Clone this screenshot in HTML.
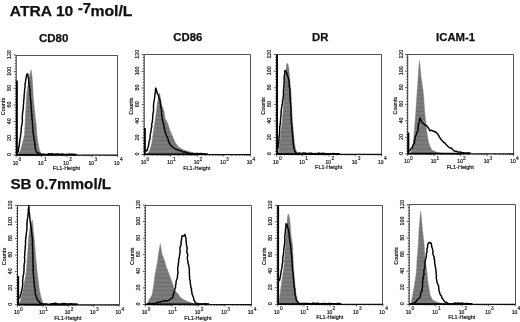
<!DOCTYPE html>
<html lang="en"><head><meta charset="utf-8"><title>Flow cytometry histograms</title>
<style>html,body{margin:0;padding:0;background:#fff}svg{display:block}text{font-family:"Liberation Sans",Arial,Helvetica,sans-serif;fill:#111}.b{font-weight:bold;stroke:#111;stroke-width:0.25px}.s{font-size:5.5px;fill:#111;stroke:#111;stroke-width:0.18px}</style>
</head><body>
<svg width="520" height="322" viewBox="0 0 520 322">
<rect width="520" height="322" fill="#fff"/>
<defs><filter id="soft" x="-5%" y="-5%" width="110%" height="110%"><feGaussianBlur stdDeviation="0.38"/></filter><pattern id="hb" patternUnits="userSpaceOnUse" x="0" y="0.9" width="20" height="4.17"><rect width="20" height="4.17" fill="#7d7d7d"/><rect y="1.4" width="20" height="1.3" fill="#6c6c6c"/></pattern></defs>
<text class="b" x="9.8" y="16.3" font-size="15.2" textLength="63.5" lengthAdjust="spacingAndGlyphs">ATRA 10</text>
<text class="b" x="77.9" y="12.6" font-size="15.2" textLength="13.2" lengthAdjust="spacingAndGlyphs">-7</text>
<text class="b" x="90.4" y="16.3" font-size="15.2" textLength="42.0" lengthAdjust="spacingAndGlyphs">mol/L</text>
<text class="b" x="10.4" y="189.2" font-size="15.2" textLength="100.8" lengthAdjust="spacingAndGlyphs">SB 0.7mmol/L</text>
<text class="b" x="39.0" y="41.8" font-size="11" textLength="29.4" lengthAdjust="spacingAndGlyphs">CD80</text>
<text class="b" x="173.3" y="41.4" font-size="11" textLength="29.1" lengthAdjust="spacingAndGlyphs">CD86</text>
<text class="b" x="312.1" y="40.8" font-size="11" textLength="16.4" lengthAdjust="spacingAndGlyphs">DR</text>
<text class="b" x="436.1" y="40.8" font-size="11" textLength="39.0" lengthAdjust="spacingAndGlyphs">ICAM-1</text>
<g id="P1" filter="url(#soft)">
<path d="M16.2,55.5 H117.5 V155.0" fill="none" stroke="#4a4a4a" stroke-width="0.95"/>
<polygon points="18.00,155.00 20.60,150.00 23.00,141.00 24.40,135.00 25.00,125.00 25.80,110.00 26.50,95.00 28.00,85.00 29.50,76.00 30.50,72.00 31.00,70.00 31.50,72.00 32.00,76.00 32.50,82.00 33.10,95.00 34.00,105.00 35.00,115.00 36.25,125.00 36.90,135.00 38.00,143.00 39.50,150.00 41.25,154.00 43.00,155.00" fill="url(#hb)" stroke="#777" stroke-width="0.4"/>
<line x1="16.2" y1="55.0" x2="16.2" y2="155.0" stroke="#2a2a2a" stroke-width="0.95"/>
<path d="M16.20,155.00h-2.6M16.20,152.22h-1.4M16.20,149.44h-1.4M16.20,146.67h-1.4M16.20,143.89h-1.4M16.20,141.11h-1.4M16.20,138.33h-2.6M16.20,135.56h-1.4M16.20,132.78h-1.4M16.20,130.00h-1.4M16.20,127.22h-1.4M16.20,124.44h-1.4M16.20,121.67h-2.6M16.20,118.89h-1.4M16.20,116.11h-1.4M16.20,113.33h-1.4M16.20,110.56h-1.4M16.20,107.78h-1.4M16.20,105.00h-2.6M16.20,102.22h-1.4M16.20,99.44h-1.4M16.20,96.67h-1.4M16.20,93.89h-1.4M16.20,91.11h-1.4M16.20,88.33h-2.6M16.20,85.56h-1.4M16.20,82.78h-1.4M16.20,80.00h-1.4M16.20,77.22h-1.4M16.20,74.44h-1.4M16.20,71.67h-2.6M16.20,68.89h-1.4M16.20,66.11h-1.4M16.20,63.33h-1.4M16.20,60.56h-1.4M16.20,57.78h-1.4M16.20,55.00h-2.6" stroke="#222" stroke-width="0.75" fill="none"/>
<line x1="16.90" y1="80.6" x2="16.90" y2="155.0" stroke="#000" stroke-width="1.9"/>
<line x1="15.70" y1="155.0" x2="117.90" y2="155.0" stroke="#0a0a0a" stroke-width="1.25"/>
<line x1="16.20" y1="154.65" x2="74.95" y2="154.65" stroke="#000" stroke-width="1.45"/>
<path d="M16.20,155.00v2.2M23.82,155.00v1.2M28.28,155.00v1.2M31.45,155.00v1.2M33.90,155.00v1.2M35.91,155.00v1.2M37.60,155.00v1.2M39.07,155.00v1.2M40.37,155.00v1.2M41.52,155.00v2.2M49.15,155.00v1.2M53.61,155.00v1.2M56.77,155.00v1.2M59.23,155.00v1.2M61.23,155.00v1.2M62.93,155.00v1.2M64.40,155.00v1.2M65.69,155.00v1.2M66.85,155.00v2.2M74.47,155.00v1.2M78.93,155.00v1.2M82.10,155.00v1.2M84.55,155.00v1.2M86.56,155.00v1.2M88.25,155.00v1.2M89.72,155.00v1.2M91.02,155.00v1.2M92.17,155.00v2.2M99.80,155.00v1.2M104.26,155.00v1.2M107.42,155.00v1.2M109.88,155.00v1.2M111.88,155.00v1.2M113.58,155.00v1.2M115.05,155.00v1.2M116.34,155.00v1.2M117.50,155.00v2.2" stroke="#222" stroke-width="0.7" fill="none"/>
<polyline points="17.50,152.50 18.10,152.00 18.46,150.10 18.61,148.06 19.23,145.99 19.42,143.36 19.82,141.06 20.00,138.96 20.43,137.18 20.60,135.00 21.00,132.71 21.24,131.24 21.20,128.68 21.43,126.81 21.90,125.00 22.17,122.53 22.43,120.65 22.24,118.31 22.33,116.42 22.46,114.38 22.76,111.86 22.99,110.10 23.33,107.54 23.32,105.43 23.68,103.30 23.60,101.54 23.91,99.16 24.14,97.04 24.10,95.00 24.54,92.69 24.49,90.80 24.81,88.41 25.12,86.53 25.02,83.89 25.50,82.00 25.66,80.58 26.07,78.17 26.39,76.48 26.60,75.00 27.20,73.80 27.80,74.30 27.90,76.00 28.30,77.00 28.43,78.24 28.70,80.00 28.72,82.01 29.10,84.00 29.36,85.65 29.43,87.41 29.95,89.10 30.00,91.00 29.99,92.57 30.00,94.50 30.40,96.55 30.33,98.16 30.60,100.00 30.99,101.98 30.82,103.69 31.30,106.13 31.13,108.13 31.50,110.00 31.45,112.10 31.82,114.24 31.96,116.09 31.88,118.37 32.32,120.65 32.45,122.96 32.50,125.00 32.82,127.41 32.94,129.05 33.00,131.37 33.17,133.69 33.76,135.55 33.75,137.50 34.29,139.61 34.61,141.79 34.70,143.61 35.21,145.76 35.15,147.79 35.60,150.00 36.31,151.53 37.50,153.00 38.97,153.15 40.60,153.85 42.50,154.30 43.70,154.10 45.27,154.49 47.16,154.47 48.83,153.72 50.62,154.01 52.26,153.77 53.62,154.24 55.16,154.29 56.34,153.87 57.69,153.99 59.11,154.16 60.97,154.13 62.70,154.06 64.10,154.40 65.47,154.36 66.59,154.36 68.17,154.27 69.42,154.31 70.85,154.32 71.97,154.24 73.26,154.25 74.78,154.49 76.20,154.44" fill="none" stroke="#000" stroke-width="1.45" stroke-linejoin="round" stroke-linecap="round"/>
<text class="s" transform="translate(10.80,154.60) rotate(-90)" text-anchor="middle" style="font-size:5.3px">0</text>
<text class="s" transform="translate(10.80,137.93) rotate(-90)" text-anchor="middle" style="font-size:5.3px">20</text>
<text class="s" transform="translate(10.80,121.27) rotate(-90)" text-anchor="middle" style="font-size:5.3px">40</text>
<text class="s" transform="translate(10.80,104.60) rotate(-90)" text-anchor="middle" style="font-size:5.3px">60</text>
<text class="s" transform="translate(10.80,87.93) rotate(-90)" text-anchor="middle" style="font-size:5.3px">80</text>
<text class="s" transform="translate(10.80,71.27) rotate(-90)" text-anchor="middle" style="font-size:5.3px">100</text>
<text class="s" transform="translate(10.80,54.60) rotate(-90)" text-anchor="middle" style="font-size:5.3px">120</text>
<text class="s" transform="translate(4.80,106.50) rotate(-90)" text-anchor="middle">Counts</text>
<text class="s" x="18.20" y="164.50" text-anchor="end" style="font-size:5px">10</text>
<text x="18.60" y="161.00" font-size="4.8" fill="#111" stroke="#111" stroke-width="0.15">0</text>
<text class="s" x="43.52" y="164.50" text-anchor="end" style="font-size:5px">10</text>
<text x="43.92" y="161.00" font-size="4.8" fill="#111" stroke="#111" stroke-width="0.15">1</text>
<text class="s" x="68.85" y="164.50" text-anchor="end" style="font-size:5px">10</text>
<text x="69.25" y="161.00" font-size="4.8" fill="#111" stroke="#111" stroke-width="0.15">2</text>
<text class="s" x="94.17" y="164.50" text-anchor="end" style="font-size:5px">10</text>
<text x="94.58" y="161.00" font-size="4.8" fill="#111" stroke="#111" stroke-width="0.15">3</text>
<text class="s" x="119.50" y="164.50" text-anchor="end" style="font-size:5px">10</text>
<text x="119.90" y="161.00" font-size="4.8" fill="#111" stroke="#111" stroke-width="0.15">4</text>
<text class="s" x="66.45" y="170.20" text-anchor="middle">FL1-Height</text>
</g>
<g id="P2" filter="url(#soft)">
<path d="M144.2,54.5 H250.5 V154.5" fill="none" stroke="#4a4a4a" stroke-width="0.95"/>
<polygon points="147.00,154.50 149.90,150.00 151.75,143.00 153.60,130.50 155.50,118.00 156.50,110.00 157.50,102.00 158.50,96.00 159.25,93.00 160.00,95.00 160.80,100.00 161.75,105.00 164.25,112.00 164.90,118.00 168.00,124.00 169.90,130.50 172.40,136.00 175.50,143.00 178.60,147.00 183.60,150.00 190.50,152.00 200.00,154.50" fill="url(#hb)" stroke="#777" stroke-width="0.4"/>
<line x1="144.2" y1="54.7" x2="144.2" y2="154.5" stroke="#2a2a2a" stroke-width="0.95"/>
<path d="M144.20,154.50h-2.6M144.20,151.73h-1.4M144.20,148.96h-1.4M144.20,146.18h-1.4M144.20,143.41h-1.4M144.20,140.64h-1.4M144.20,137.87h-2.6M144.20,135.09h-1.4M144.20,132.32h-1.4M144.20,129.55h-1.4M144.20,126.78h-1.4M144.20,124.01h-1.4M144.20,121.23h-2.6M144.20,118.46h-1.4M144.20,115.69h-1.4M144.20,112.92h-1.4M144.20,110.14h-1.4M144.20,107.37h-1.4M144.20,104.60h-2.6M144.20,101.83h-1.4M144.20,99.06h-1.4M144.20,96.28h-1.4M144.20,93.51h-1.4M144.20,90.74h-1.4M144.20,87.97h-2.6M144.20,85.19h-1.4M144.20,82.42h-1.4M144.20,79.65h-1.4M144.20,76.88h-1.4M144.20,74.11h-1.4M144.20,71.33h-2.6M144.20,68.56h-1.4M144.20,65.79h-1.4M144.20,63.02h-1.4M144.20,60.24h-1.4M144.20,57.47h-1.4M144.20,54.70h-2.6" stroke="#222" stroke-width="0.75" fill="none"/>
<line x1="144.90" y1="128" x2="144.90" y2="154.5" stroke="#000" stroke-width="1.9"/>
<line x1="143.70" y1="154.5" x2="250.60" y2="154.5" stroke="#0a0a0a" stroke-width="1.25"/>
<line x1="144.20" y1="154.15" x2="205.68" y2="154.15" stroke="#000" stroke-width="1.45"/>
<path d="M144.20,154.50v2.2M152.18,154.50v1.2M156.84,154.50v1.2M160.15,154.50v1.2M162.72,154.50v1.2M164.82,154.50v1.2M166.60,154.50v1.2M168.13,154.50v1.2M169.49,154.50v1.2M170.70,154.50v2.2M178.68,154.50v1.2M183.34,154.50v1.2M186.65,154.50v1.2M189.22,154.50v1.2M191.32,154.50v1.2M193.10,154.50v1.2M194.63,154.50v1.2M195.99,154.50v1.2M197.20,154.50v2.2M205.18,154.50v1.2M209.84,154.50v1.2M213.15,154.50v1.2M215.72,154.50v1.2M217.82,154.50v1.2M219.60,154.50v1.2M221.13,154.50v1.2M222.49,154.50v1.2M223.70,154.50v2.2M231.68,154.50v1.2M236.34,154.50v1.2M239.65,154.50v1.2M242.22,154.50v1.2M244.32,154.50v1.2M246.10,154.50v1.2M247.63,154.50v1.2M248.99,154.50v1.2M250.20,154.50v2.2" stroke="#222" stroke-width="0.7" fill="none"/>
<polyline points="145.50,150.00 146.50,151.00 147.20,150.30 147.66,148.22 148.27,146.98 148.65,144.29 149.00,143.00 149.17,140.74 150.03,139.01 150.07,136.94 150.12,134.87 150.86,132.26 151.10,130.50 151.26,128.30 151.94,126.16 151.55,124.55 152.39,121.92 152.40,120.00 152.74,118.54 152.69,116.18 152.98,114.05 153.16,112.39 153.61,110.48 153.50,108.00 153.46,106.40 153.66,103.61 153.91,101.54 154.32,99.56 154.54,98.44 154.80,96.00 155.01,93.55 155.53,92.08 155.40,89.89 155.90,88.10 156.50,90.00 156.83,92.07 157.50,94.00 158.40,95.15 158.70,97.00 159.26,98.24 159.90,100.00 160.31,102.43 160.34,103.60 160.75,106.05 161.14,108.13 161.50,110.00 161.49,112.03 161.61,114.10 161.90,116.35 162.22,117.50 162.40,120.00 162.98,121.90 163.37,123.74 164.02,126.04 164.09,128.35 164.90,130.50 165.19,132.09 165.73,133.44 166.22,135.02 167.00,137.00 168.00,138.62 168.40,141.09 169.25,143.00 169.94,143.80 170.93,145.76 172.00,146.50 173.43,147.58 174.03,148.01 175.50,149.25 177.53,149.69 178.98,150.42 181.41,150.96 183.00,152.00 185.06,151.82 186.76,152.95 188.17,152.94 190.63,153.81 192.22,153.34 194.00,154.00 195.20,153.63 196.52,153.44 197.79,153.40 199.43,153.69 200.82,153.49 202.09,153.72 203.23,153.98 204.72,153.92 206.04,153.93 207.24,153.92" fill="none" stroke="#000" stroke-width="1.45" stroke-linejoin="round" stroke-linecap="round"/>
<text class="s" transform="translate(139.30,154.10) rotate(-90)" text-anchor="middle" style="font-size:5.3px">0</text>
<text class="s" transform="translate(139.30,137.47) rotate(-90)" text-anchor="middle" style="font-size:5.3px">20</text>
<text class="s" transform="translate(139.30,120.83) rotate(-90)" text-anchor="middle" style="font-size:5.3px">40</text>
<text class="s" transform="translate(139.30,104.20) rotate(-90)" text-anchor="middle" style="font-size:5.3px">60</text>
<text class="s" transform="translate(139.30,87.57) rotate(-90)" text-anchor="middle" style="font-size:5.3px">80</text>
<text class="s" transform="translate(139.30,70.93) rotate(-90)" text-anchor="middle" style="font-size:5.3px">100</text>
<text class="s" transform="translate(139.30,54.30) rotate(-90)" text-anchor="middle" style="font-size:5.3px">120</text>
<text class="s" transform="translate(133.30,106.10) rotate(-90)" text-anchor="middle">Counts</text>
<text class="s" x="146.20" y="164.00" text-anchor="end" style="font-size:5px">10</text>
<text x="146.60" y="160.50" font-size="4.8" fill="#111" stroke="#111" stroke-width="0.15">0</text>
<text class="s" x="172.70" y="164.00" text-anchor="end" style="font-size:5px">10</text>
<text x="173.10" y="160.50" font-size="4.8" fill="#111" stroke="#111" stroke-width="0.15">1</text>
<text class="s" x="199.20" y="164.00" text-anchor="end" style="font-size:5px">10</text>
<text x="199.60" y="160.50" font-size="4.8" fill="#111" stroke="#111" stroke-width="0.15">2</text>
<text class="s" x="225.70" y="164.00" text-anchor="end" style="font-size:5px">10</text>
<text x="226.10" y="160.50" font-size="4.8" fill="#111" stroke="#111" stroke-width="0.15">3</text>
<text class="s" x="252.20" y="164.00" text-anchor="end" style="font-size:5px">10</text>
<text x="252.60" y="160.50" font-size="4.8" fill="#111" stroke="#111" stroke-width="0.15">4</text>
<text class="s" x="196.80" y="169.70" text-anchor="middle">FL1-Height</text>
</g>
<g id="P3" filter="url(#soft)">
<path d="M276.5,54.5 H381.5 V154.25" fill="none" stroke="#4a4a4a" stroke-width="0.95"/>
<polygon points="278.00,154.25 279.75,143.00 282.50,118.00 283.50,105.00 284.00,95.00 284.90,82.00 285.70,72.00 286.30,66.00 286.90,63.60 287.50,63.50 288.50,66.00 289.20,72.00 290.00,82.00 291.25,95.00 291.60,105.00 292.30,118.00 293.30,130.00 294.50,143.00 295.80,150.00 298.50,154.25" fill="url(#hb)" stroke="#777" stroke-width="0.4"/>
<line x1="276.5" y1="54.6" x2="276.5" y2="154.25" stroke="#2a2a2a" stroke-width="0.95"/>
<path d="M276.50,154.25h-2.6M276.50,151.48h-1.4M276.50,148.71h-1.4M276.50,145.95h-1.4M276.50,143.18h-1.4M276.50,140.41h-1.4M276.50,137.64h-2.6M276.50,134.87h-1.4M276.50,132.11h-1.4M276.50,129.34h-1.4M276.50,126.57h-1.4M276.50,123.80h-1.4M276.50,121.03h-2.6M276.50,118.27h-1.4M276.50,115.50h-1.4M276.50,112.73h-1.4M276.50,109.96h-1.4M276.50,107.19h-1.4M276.50,104.42h-2.6M276.50,101.66h-1.4M276.50,98.89h-1.4M276.50,96.12h-1.4M276.50,93.35h-1.4M276.50,90.58h-1.4M276.50,87.82h-2.6M276.50,85.05h-1.4M276.50,82.28h-1.4M276.50,79.51h-1.4M276.50,76.74h-1.4M276.50,73.98h-1.4M276.50,71.21h-2.6M276.50,68.44h-1.4M276.50,65.67h-1.4M276.50,62.90h-1.4M276.50,60.14h-1.4M276.50,57.37h-1.4M276.50,54.60h-2.6" stroke="#222" stroke-width="0.75" fill="none"/>
<line x1="277.20" y1="54.6" x2="277.20" y2="154.25" stroke="#000" stroke-width="1.6"/>
<line x1="276.00" y1="154.25" x2="382.00" y2="154.25" stroke="#0a0a0a" stroke-width="1.25"/>
<line x1="276.50" y1="153.90" x2="337.46" y2="153.90" stroke="#000" stroke-width="1.45"/>
<path d="M276.50,154.25v2.2M284.41,154.25v1.2M289.04,154.25v1.2M292.32,154.25v1.2M294.87,154.25v1.2M296.95,154.25v1.2M298.70,154.25v1.2M300.23,154.25v1.2M301.57,154.25v1.2M302.77,154.25v2.2M310.68,154.25v1.2M315.31,154.25v1.2M318.59,154.25v1.2M321.14,154.25v1.2M323.22,154.25v1.2M324.98,154.25v1.2M326.50,154.25v1.2M327.85,154.25v1.2M329.05,154.25v2.2M336.96,154.25v1.2M341.59,154.25v1.2M344.87,154.25v1.2M347.42,154.25v1.2M349.50,154.25v1.2M351.25,154.25v1.2M352.78,154.25v1.2M354.12,154.25v1.2M355.33,154.25v2.2M363.23,154.25v1.2M367.86,154.25v1.2M371.14,154.25v1.2M373.69,154.25v1.2M375.77,154.25v1.2M377.53,154.25v1.2M379.05,154.25v1.2M380.40,154.25v1.2M381.60,154.25v2.2" stroke="#222" stroke-width="0.7" fill="none"/>
<polyline points="278.00,148.00 278.16,146.55 278.29,144.50 278.75,143.00 278.85,141.23 278.98,138.91 279.01,136.49 279.47,134.71 279.63,132.54 279.67,130.26 279.69,128.06 279.82,126.29 280.18,124.44 280.36,122.42 280.56,119.69 280.60,118.00 281.03,115.83 281.03,113.34 281.13,111.15 281.33,109.56 281.70,107.39 282.00,105.00 282.54,103.10 282.45,100.73 283.13,98.99 283.12,97.36 283.50,95.00 283.42,93.14 283.42,90.62 283.67,88.88 283.81,86.39 284.07,84.27 284.00,82.00 284.29,80.35 284.03,77.91 284.33,76.21 284.66,74.11 284.87,72.75 284.75,70.60 285.80,71.00 286.48,72.31 287.00,74.00 287.72,76.17 288.35,77.84 288.75,80.00 289.11,81.76 289.15,83.71 289.27,86.36 289.60,88.00 289.95,89.47 289.87,91.10 289.83,93.20 290.00,95.00 289.99,96.64 290.33,99.32 290.21,100.90 290.60,103.17 290.60,105.00 290.80,107.02 291.02,109.57 291.05,111.60 290.84,114.02 291.15,115.83 291.20,118.00 291.42,120.22 291.30,121.74 291.53,123.71 291.83,125.72 291.93,128.09 292.00,130.00 292.32,132.40 292.41,134.08 292.80,136.60 292.80,138.96 293.16,140.91 293.20,143.00 293.47,144.52 293.63,146.14 293.94,148.39 294.50,150.00 295.07,151.66 296.00,153.00 296.89,153.26 298.00,154.00 299.20,152.77 300.59,153.65 302.21,153.12 304.07,153.02 305.48,153.23 306.72,153.46 308.19,153.55 309.96,153.13 311.37,153.13 312.80,153.62 314.10,153.67 315.77,153.55 316.92,153.71 318.39,153.22 319.68,153.28 321.42,153.71 322.76,153.28 324.46,153.45 325.58,153.64 327.25,153.69 328.51,153.72 330.03,153.68 331.78,153.72 333.43,153.49 334.73,153.65 336.46,153.71 337.96,153.72 339.37,153.67" fill="none" stroke="#000" stroke-width="1.45" stroke-linejoin="round" stroke-linecap="round"/>
<text class="s" transform="translate(270.80,153.85) rotate(-90)" text-anchor="middle" style="font-size:5.3px">0</text>
<text class="s" transform="translate(270.80,137.24) rotate(-90)" text-anchor="middle" style="font-size:5.3px">20</text>
<text class="s" transform="translate(270.80,120.63) rotate(-90)" text-anchor="middle" style="font-size:5.3px">40</text>
<text class="s" transform="translate(270.80,104.02) rotate(-90)" text-anchor="middle" style="font-size:5.3px">60</text>
<text class="s" transform="translate(270.80,87.42) rotate(-90)" text-anchor="middle" style="font-size:5.3px">80</text>
<text class="s" transform="translate(270.80,70.81) rotate(-90)" text-anchor="middle" style="font-size:5.3px">100</text>
<text class="s" transform="translate(270.80,54.20) rotate(-90)" text-anchor="middle" style="font-size:5.3px">120</text>
<text class="s" transform="translate(264.80,105.92) rotate(-90)" text-anchor="middle">Counts</text>
<text class="s" x="278.50" y="163.75" text-anchor="end" style="font-size:5px">10</text>
<text x="278.90" y="160.25" font-size="4.8" fill="#111" stroke="#111" stroke-width="0.15">0</text>
<text class="s" x="304.77" y="163.75" text-anchor="end" style="font-size:5px">10</text>
<text x="305.17" y="160.25" font-size="4.8" fill="#111" stroke="#111" stroke-width="0.15">1</text>
<text class="s" x="331.05" y="163.75" text-anchor="end" style="font-size:5px">10</text>
<text x="331.45" y="160.25" font-size="4.8" fill="#111" stroke="#111" stroke-width="0.15">2</text>
<text class="s" x="357.33" y="163.75" text-anchor="end" style="font-size:5px">10</text>
<text x="357.73" y="160.25" font-size="4.8" fill="#111" stroke="#111" stroke-width="0.15">3</text>
<text class="s" x="383.60" y="163.75" text-anchor="end" style="font-size:5px">10</text>
<text x="384.00" y="160.25" font-size="4.8" fill="#111" stroke="#111" stroke-width="0.15">4</text>
<text class="s" x="328.65" y="169.45" text-anchor="middle">FL1-Height</text>
</g>
<g id="P4" filter="url(#soft)">
<path d="M407.7,54.5 H513.5 V153.9" fill="none" stroke="#4a4a4a" stroke-width="0.95"/>
<polygon points="410.60,153.90 413.00,145.00 414.00,135.00 414.40,130.00 415.60,115.00 416.90,95.00 417.25,90.00 418.30,75.00 419.00,65.00 419.40,60.60 420.00,65.00 420.80,75.00 423.00,90.00 423.50,95.00 425.00,115.00 425.60,120.00 426.90,132.50 428.10,140.00 429.40,145.00 431.90,150.00 436.00,152.00 445.00,153.90" fill="url(#hb)" stroke="#777" stroke-width="0.4"/>
<line x1="407.7" y1="54.6" x2="407.7" y2="153.9" stroke="#2a2a2a" stroke-width="0.95"/>
<path d="M407.70,153.90h-2.6M407.70,151.14h-1.4M407.70,148.38h-1.4M407.70,145.62h-1.4M407.70,142.87h-1.4M407.70,140.11h-1.4M407.70,137.35h-2.6M407.70,134.59h-1.4M407.70,131.83h-1.4M407.70,129.07h-1.4M407.70,126.32h-1.4M407.70,123.56h-1.4M407.70,120.80h-2.6M407.70,118.04h-1.4M407.70,115.28h-1.4M407.70,112.53h-1.4M407.70,109.77h-1.4M407.70,107.01h-1.4M407.70,104.25h-2.6M407.70,101.49h-1.4M407.70,98.73h-1.4M407.70,95.97h-1.4M407.70,93.22h-1.4M407.70,90.46h-1.4M407.70,87.70h-2.6M407.70,84.94h-1.4M407.70,82.18h-1.4M407.70,79.42h-1.4M407.70,76.67h-1.4M407.70,73.91h-1.4M407.70,71.15h-2.6M407.70,68.39h-1.4M407.70,65.63h-1.4M407.70,62.87h-1.4M407.70,60.12h-1.4M407.70,57.36h-1.4M407.70,54.60h-2.6" stroke="#222" stroke-width="0.75" fill="none"/>
<line x1="408.40" y1="132.5" x2="408.40" y2="153.9" stroke="#000" stroke-width="1.9"/>
<line x1="407.20" y1="153.9" x2="514.10" y2="153.9" stroke="#0a0a0a" stroke-width="1.25"/>
<line x1="407.70" y1="153.55" x2="469.18" y2="153.55" stroke="#000" stroke-width="1.45"/>
<path d="M407.70,153.90v2.2M415.68,153.90v1.2M420.34,153.90v1.2M423.65,153.90v1.2M426.22,153.90v1.2M428.32,153.90v1.2M430.10,153.90v1.2M431.63,153.90v1.2M432.99,153.90v1.2M434.20,153.90v2.2M442.18,153.90v1.2M446.84,153.90v1.2M450.15,153.90v1.2M452.72,153.90v1.2M454.82,153.90v1.2M456.60,153.90v1.2M458.13,153.90v1.2M459.49,153.90v1.2M460.70,153.90v2.2M468.68,153.90v1.2M473.34,153.90v1.2M476.65,153.90v1.2M479.22,153.90v1.2M481.32,153.90v1.2M483.10,153.90v1.2M484.63,153.90v1.2M485.99,153.90v1.2M487.20,153.90v2.2M495.18,153.90v1.2M499.84,153.90v1.2M503.15,153.90v1.2M505.72,153.90v1.2M507.82,153.90v1.2M509.60,153.90v1.2M511.13,153.90v1.2M512.49,153.90v1.2M513.70,153.90v2.2" stroke="#222" stroke-width="0.7" fill="none"/>
<polyline points="408.50,151.00 410.00,150.60 410.84,148.73 412.31,147.88 412.60,146.08 413.75,143.75 414.78,142.47 414.28,140.85 415.06,138.65 415.49,136.39 416.27,134.71 416.90,132.50 417.60,130.98 418.06,128.91 418.23,126.18 418.50,124.00 419.23,122.21 419.66,119.79 419.75,118.00 420.88,119.69 421.00,120.00 421.67,122.02 423.00,123.00 424.05,124.18 425.00,125.00 426.50,125.50 427.96,127.30 428.75,128.50 429.56,130.32 430.00,130.80 431.12,130.14 433.00,131.00 434.39,131.50 436.25,132.50 437.09,133.24 438.75,135.60 439.48,137.53 440.56,138.12 441.00,139.50 442.78,141.16 443.75,142.50 444.92,142.73 445.72,144.29 447.00,145.50 448.04,146.51 450.00,148.00 451.61,148.27 453.00,150.00 454.37,151.11 456.25,151.25 458.22,152.10 460.04,151.90 462.50,153.00 463.70,152.67 465.41,153.32 467.01,152.95 468.71,153.09 470.45,153.31" fill="none" stroke="#000" stroke-width="1.45" stroke-linejoin="round" stroke-linecap="round"/>
<text class="s" transform="translate(402.80,153.50) rotate(-90)" text-anchor="middle" style="font-size:5.3px">0</text>
<text class="s" transform="translate(402.80,136.95) rotate(-90)" text-anchor="middle" style="font-size:5.3px">20</text>
<text class="s" transform="translate(402.80,120.40) rotate(-90)" text-anchor="middle" style="font-size:5.3px">40</text>
<text class="s" transform="translate(402.80,103.85) rotate(-90)" text-anchor="middle" style="font-size:5.3px">60</text>
<text class="s" transform="translate(402.80,87.30) rotate(-90)" text-anchor="middle" style="font-size:5.3px">80</text>
<text class="s" transform="translate(402.80,70.75) rotate(-90)" text-anchor="middle" style="font-size:5.3px">100</text>
<text class="s" transform="translate(402.80,54.20) rotate(-90)" text-anchor="middle" style="font-size:5.3px">120</text>
<text class="s" transform="translate(396.80,105.75) rotate(-90)" text-anchor="middle">Counts</text>
<text class="s" x="409.70" y="163.40" text-anchor="end" style="font-size:5px">10</text>
<text x="410.10" y="159.90" font-size="4.8" fill="#111" stroke="#111" stroke-width="0.15">0</text>
<text class="s" x="436.20" y="163.40" text-anchor="end" style="font-size:5px">10</text>
<text x="436.60" y="159.90" font-size="4.8" fill="#111" stroke="#111" stroke-width="0.15">1</text>
<text class="s" x="462.70" y="163.40" text-anchor="end" style="font-size:5px">10</text>
<text x="463.10" y="159.90" font-size="4.8" fill="#111" stroke="#111" stroke-width="0.15">2</text>
<text class="s" x="489.20" y="163.40" text-anchor="end" style="font-size:5px">10</text>
<text x="489.60" y="159.90" font-size="4.8" fill="#111" stroke="#111" stroke-width="0.15">3</text>
<text class="s" x="515.70" y="163.40" text-anchor="end" style="font-size:5px">10</text>
<text x="516.10" y="159.90" font-size="4.8" fill="#111" stroke="#111" stroke-width="0.15">4</text>
<text class="s" x="460.30" y="169.10" text-anchor="middle">FL1-Height</text>
</g>
<g id="P5" filter="url(#soft)">
<path d="M17.5,205.5 H119.5 V304.75" fill="none" stroke="#4a4a4a" stroke-width="0.95"/>
<polygon points="19.00,304.75 20.60,300.00 23.10,290.00 26.25,272.00 27.50,255.00 28.75,237.00 30.00,228.00 31.50,222.00 32.25,220.00 32.80,224.00 33.75,235.00 34.40,240.00 35.50,255.00 37.20,272.00 39.40,290.00 41.25,298.00 43.75,304.75" fill="url(#hb)" stroke="#777" stroke-width="0.4"/>
<line x1="17.5" y1="205.4" x2="17.5" y2="304.75" stroke="#2a2a2a" stroke-width="0.95"/>
<path d="M17.50,304.75h-2.6M17.50,301.99h-1.4M17.50,299.23h-1.4M17.50,296.47h-1.4M17.50,293.71h-1.4M17.50,290.95h-1.4M17.50,288.19h-2.6M17.50,285.43h-1.4M17.50,282.67h-1.4M17.50,279.91h-1.4M17.50,277.15h-1.4M17.50,274.39h-1.4M17.50,271.63h-2.6M17.50,268.87h-1.4M17.50,266.11h-1.4M17.50,263.35h-1.4M17.50,260.59h-1.4M17.50,257.83h-1.4M17.50,255.07h-2.6M17.50,252.32h-1.4M17.50,249.56h-1.4M17.50,246.80h-1.4M17.50,244.04h-1.4M17.50,241.28h-1.4M17.50,238.52h-2.6M17.50,235.76h-1.4M17.50,233.00h-1.4M17.50,230.24h-1.4M17.50,227.48h-1.4M17.50,224.72h-1.4M17.50,221.96h-2.6M17.50,219.20h-1.4M17.50,216.44h-1.4M17.50,213.68h-1.4M17.50,210.92h-1.4M17.50,208.16h-1.4M17.50,205.40h-2.6" stroke="#222" stroke-width="0.75" fill="none"/>
<line x1="18.20" y1="276" x2="18.20" y2="304.75" stroke="#000" stroke-width="1.9"/>
<line x1="17.00" y1="304.75" x2="119.40" y2="304.75" stroke="#0a0a0a" stroke-width="1.25"/>
<line x1="17.50" y1="304.40" x2="76.37" y2="304.40" stroke="#000" stroke-width="1.45"/>
<path d="M17.50,304.75v2.2M25.14,304.75v1.2M29.61,304.75v1.2M32.78,304.75v1.2M35.24,304.75v1.2M37.25,304.75v1.2M38.94,304.75v1.2M40.42,304.75v1.2M41.71,304.75v1.2M42.88,304.75v2.2M50.51,304.75v1.2M54.98,304.75v1.2M58.15,304.75v1.2M60.61,304.75v1.2M62.62,304.75v1.2M64.32,304.75v1.2M65.79,304.75v1.2M67.09,304.75v1.2M68.25,304.75v2.2M75.89,304.75v1.2M80.36,304.75v1.2M83.53,304.75v1.2M85.99,304.75v1.2M88.00,304.75v1.2M89.69,304.75v1.2M91.17,304.75v1.2M92.46,304.75v1.2M93.62,304.75v2.2M101.26,304.75v1.2M105.73,304.75v1.2M108.90,304.75v1.2M111.36,304.75v1.2M113.37,304.75v1.2M115.07,304.75v1.2M116.54,304.75v1.2M117.84,304.75v1.2M119.00,304.75v2.2" stroke="#222" stroke-width="0.7" fill="none"/>
<polyline points="19.50,298.00 20.00,297.00 20.47,295.24 21.08,293.75 21.34,291.79 21.90,290.00 22.17,288.17 22.55,286.20 22.72,284.13 22.62,281.83 22.70,280.00 22.99,277.83 23.19,275.61 23.71,273.86 23.87,272.32 24.00,270.00 24.01,267.92 24.04,265.41 24.44,263.24 24.70,261.23 24.76,259.66 24.47,257.06 24.80,254.79 24.79,252.77 25.02,250.53 25.20,248.61 25.28,246.06 25.58,244.20 25.44,241.89 25.60,240.00 25.71,238.41 26.00,237.01 26.25,235.00 26.39,232.73 26.74,230.92 26.96,228.78 26.92,226.60 26.86,223.85 27.20,222.00 27.15,220.13 27.75,217.76 27.93,215.79 28.00,214.00 28.36,211.73 28.26,209.84 28.55,208.00 28.66,207.07 28.80,205.70 28.93,207.11 29.05,208.00 28.99,210.11 29.13,211.66 29.50,214.00 29.66,216.30 29.99,218.17 30.10,220.00 30.11,222.02 30.64,223.39 30.60,225.00 31.01,227.02 31.28,228.93 31.42,230.81 31.72,233.03 31.90,235.00 32.19,237.12 32.39,238.62 32.45,239.95 32.50,242.00 32.30,243.89 32.63,246.18 32.56,248.26 32.74,250.39 32.62,252.37 32.96,254.76 32.95,256.86 32.94,259.29 32.84,261.45 33.00,263.34 32.99,265.40 33.27,267.54 33.10,270.00 33.05,272.22 33.46,274.08 33.49,276.70 33.85,278.59 33.99,281.06 34.01,282.74 34.40,285.00 34.56,286.89 34.99,289.31 35.21,290.77 35.19,293.03 35.60,295.00 36.32,296.71 36.83,298.45 37.50,300.00 38.73,301.25 40.00,303.00 41.10,303.52 42.50,304.30 44.28,304.09 46.42,304.03 47.88,304.38 50.00,304.30 51.59,303.83 53.00,303.60 55.00,303.20 57.00,303.80 58.46,303.94 60.00,304.30 61.20,303.87 62.48,303.33 64.02,303.73 65.37,303.56 66.57,304.16 67.87,303.93 69.42,304.02 70.64,303.77 72.10,304.03 73.81,304.09 75.01,304.15 76.20,304.03 77.35,304.23" fill="none" stroke="#000" stroke-width="1.45" stroke-linejoin="round" stroke-linecap="round"/>
<text class="s" transform="translate(12.30,304.35) rotate(-90)" text-anchor="middle" style="font-size:5.3px">0</text>
<text class="s" transform="translate(12.30,287.79) rotate(-90)" text-anchor="middle" style="font-size:5.3px">20</text>
<text class="s" transform="translate(12.30,271.23) rotate(-90)" text-anchor="middle" style="font-size:5.3px">40</text>
<text class="s" transform="translate(12.30,254.67) rotate(-90)" text-anchor="middle" style="font-size:5.3px">60</text>
<text class="s" transform="translate(12.30,238.12) rotate(-90)" text-anchor="middle" style="font-size:5.3px">80</text>
<text class="s" transform="translate(12.30,221.56) rotate(-90)" text-anchor="middle" style="font-size:5.3px">100</text>
<text class="s" transform="translate(12.30,205.00) rotate(-90)" text-anchor="middle" style="font-size:5.3px">120</text>
<text class="s" transform="translate(6.30,256.57) rotate(-90)" text-anchor="middle">Counts</text>
<text class="s" x="19.50" y="314.25" text-anchor="end" style="font-size:5px">10</text>
<text x="19.90" y="310.75" font-size="4.8" fill="#111" stroke="#111" stroke-width="0.15">0</text>
<text class="s" x="44.88" y="314.25" text-anchor="end" style="font-size:5px">10</text>
<text x="45.27" y="310.75" font-size="4.8" fill="#111" stroke="#111" stroke-width="0.15">1</text>
<text class="s" x="70.25" y="314.25" text-anchor="end" style="font-size:5px">10</text>
<text x="70.65" y="310.75" font-size="4.8" fill="#111" stroke="#111" stroke-width="0.15">2</text>
<text class="s" x="95.62" y="314.25" text-anchor="end" style="font-size:5px">10</text>
<text x="96.03" y="310.75" font-size="4.8" fill="#111" stroke="#111" stroke-width="0.15">3</text>
<text class="s" x="121.00" y="314.25" text-anchor="end" style="font-size:5px">10</text>
<text x="121.40" y="310.75" font-size="4.8" fill="#111" stroke="#111" stroke-width="0.15">4</text>
<text class="s" x="67.85" y="319.95" text-anchor="middle">FL1-Height</text>
</g>
<g id="P6" filter="url(#soft)">
<path d="M145.3,205.5 H251.5 V304.5" fill="none" stroke="#4a4a4a" stroke-width="0.95"/>
<polygon points="146.90,304.50 149.00,300.00 152.00,295.00 153.75,285.00 155.00,275.00 156.90,265.00 157.50,262.00 158.50,254.00 159.50,248.00 160.25,243.75 161.00,248.00 162.00,254.00 163.50,258.00 165.00,262.00 165.60,265.00 169.40,275.00 173.10,285.00 174.00,290.00 177.50,293.25 178.75,295.00 181.25,298.25 187.50,301.40 193.75,303.50 200.00,304.50" fill="url(#hb)" stroke="#777" stroke-width="0.4"/>
<line x1="145.3" y1="205.0" x2="145.3" y2="304.5" stroke="#2a2a2a" stroke-width="0.95"/>
<path d="M145.30,304.50h-2.6M145.30,301.74h-1.4M145.30,298.97h-1.4M145.30,296.21h-1.4M145.30,293.44h-1.4M145.30,290.68h-1.4M145.30,287.92h-2.6M145.30,285.15h-1.4M145.30,282.39h-1.4M145.30,279.62h-1.4M145.30,276.86h-1.4M145.30,274.10h-1.4M145.30,271.33h-2.6M145.30,268.57h-1.4M145.30,265.81h-1.4M145.30,263.04h-1.4M145.30,260.28h-1.4M145.30,257.51h-1.4M145.30,254.75h-2.6M145.30,251.99h-1.4M145.30,249.22h-1.4M145.30,246.46h-1.4M145.30,243.69h-1.4M145.30,240.93h-1.4M145.30,238.17h-2.6M145.30,235.40h-1.4M145.30,232.64h-1.4M145.30,229.88h-1.4M145.30,227.11h-1.4M145.30,224.35h-1.4M145.30,221.58h-2.6M145.30,218.82h-1.4M145.30,216.06h-1.4M145.30,213.29h-1.4M145.30,210.53h-1.4M145.30,207.76h-1.4M145.30,205.00h-2.6" stroke="#222" stroke-width="0.75" fill="none"/>
<line x1="144.80" y1="304.5" x2="251.70" y2="304.5" stroke="#0a0a0a" stroke-width="1.25"/>
<line x1="145.30" y1="304.15" x2="206.78" y2="304.15" stroke="#000" stroke-width="1.45"/>
<path d="M145.30,304.50v2.2M153.28,304.50v1.2M157.94,304.50v1.2M161.25,304.50v1.2M163.82,304.50v1.2M165.92,304.50v1.2M167.70,304.50v1.2M169.23,304.50v1.2M170.59,304.50v1.2M171.80,304.50v2.2M179.78,304.50v1.2M184.44,304.50v1.2M187.75,304.50v1.2M190.32,304.50v1.2M192.42,304.50v1.2M194.20,304.50v1.2M195.73,304.50v1.2M197.09,304.50v1.2M198.30,304.50v2.2M206.28,304.50v1.2M210.94,304.50v1.2M214.25,304.50v1.2M216.82,304.50v1.2M218.92,304.50v1.2M220.70,304.50v1.2M222.23,304.50v1.2M223.59,304.50v1.2M224.80,304.50v2.2M232.78,304.50v1.2M237.44,304.50v1.2M240.75,304.50v1.2M243.32,304.50v1.2M245.42,304.50v1.2M247.20,304.50v1.2M248.73,304.50v1.2M250.09,304.50v1.2M251.30,304.50v2.2" stroke="#222" stroke-width="0.7" fill="none"/>
<polyline points="148.00,304.00 149.49,303.40 151.44,304.26 152.50,303.50 154.60,303.61 155.82,303.13 157.77,302.21 160.00,302.00 161.87,301.33 163.79,301.31 165.20,300.76 167.50,300.75 168.98,300.33 170.64,298.76 171.90,298.25 172.88,296.86 173.30,294.41 173.75,293.00 174.55,291.61 174.57,289.31 175.51,287.61 175.60,285.00 176.13,283.24 176.04,281.48 176.94,279.03 177.44,277.46 177.50,275.00 178.09,273.33 177.86,271.11 177.63,268.85 177.99,266.48 178.40,265.00 178.21,263.93 178.75,262.00 178.60,259.79 179.28,257.74 179.49,255.64 179.76,254.25 180.07,251.85 180.00,250.00 179.96,247.81 180.76,245.40 181.13,244.40 181.00,242.00 181.59,239.52 181.79,237.43 181.90,236.00 183.50,236.00 185.00,234.40 185.08,235.84 186.05,238.53 186.00,240.00 186.22,242.02 186.51,244.36 186.47,245.83 187.19,247.61 187.00,250.00 186.74,252.52 187.77,253.90 187.72,255.41 187.32,257.29 187.52,259.88 188.10,262.00 187.98,263.73 188.75,265.00 188.84,266.62 189.25,269.00 189.36,270.32 189.31,273.48 189.40,275.00 189.69,277.34 189.47,278.64 190.35,281.00 190.22,282.67 190.60,285.00 190.82,287.14 191.56,288.87 191.40,290.46 191.90,292.00 191.97,294.09 192.50,295.00 192.86,296.10 193.67,298.21 193.75,299.50 194.39,300.48 195.20,302.39 196.25,303.25 198.57,303.75 200.00,304.00 201.20,303.91 202.71,303.85 204.39,303.98 205.64,303.59 207.45,303.99 208.76,303.99" fill="none" stroke="#000" stroke-width="1.45" stroke-linejoin="round" stroke-linecap="round"/>
<text class="s" transform="translate(140.30,304.10) rotate(-90)" text-anchor="middle" style="font-size:5.3px">0</text>
<text class="s" transform="translate(140.30,287.52) rotate(-90)" text-anchor="middle" style="font-size:5.3px">20</text>
<text class="s" transform="translate(140.30,270.93) rotate(-90)" text-anchor="middle" style="font-size:5.3px">40</text>
<text class="s" transform="translate(140.30,254.35) rotate(-90)" text-anchor="middle" style="font-size:5.3px">60</text>
<text class="s" transform="translate(140.30,237.77) rotate(-90)" text-anchor="middle" style="font-size:5.3px">80</text>
<text class="s" transform="translate(140.30,221.18) rotate(-90)" text-anchor="middle" style="font-size:5.3px">100</text>
<text class="s" transform="translate(140.30,204.60) rotate(-90)" text-anchor="middle" style="font-size:5.3px">120</text>
<text class="s" transform="translate(134.30,256.25) rotate(-90)" text-anchor="middle">Counts</text>
<text class="s" x="147.30" y="314.00" text-anchor="end" style="font-size:5px">10</text>
<text x="147.70" y="310.50" font-size="4.8" fill="#111" stroke="#111" stroke-width="0.15">0</text>
<text class="s" x="173.80" y="314.00" text-anchor="end" style="font-size:5px">10</text>
<text x="174.20" y="310.50" font-size="4.8" fill="#111" stroke="#111" stroke-width="0.15">1</text>
<text class="s" x="200.30" y="314.00" text-anchor="end" style="font-size:5px">10</text>
<text x="200.70" y="310.50" font-size="4.8" fill="#111" stroke="#111" stroke-width="0.15">2</text>
<text class="s" x="226.80" y="314.00" text-anchor="end" style="font-size:5px">10</text>
<text x="227.20" y="310.50" font-size="4.8" fill="#111" stroke="#111" stroke-width="0.15">3</text>
<text class="s" x="253.30" y="314.00" text-anchor="end" style="font-size:5px">10</text>
<text x="253.70" y="310.50" font-size="4.8" fill="#111" stroke="#111" stroke-width="0.15">4</text>
<text class="s" x="197.90" y="319.70" text-anchor="middle">FL1-Height</text>
</g>
<g id="P7" filter="url(#soft)">
<path d="M277.6,205.5 H382.5 V304.25" fill="none" stroke="#4a4a4a" stroke-width="0.95"/>
<polygon points="279.00,304.25 280.00,295.00 281.25,285.00 283.75,268.00 284.80,255.00 285.50,245.00 286.30,232.00 287.20,220.00 287.90,214.60 288.60,214.20 289.60,218.00 290.30,225.00 291.00,235.00 292.50,245.00 293.00,255.00 293.60,268.00 295.00,285.00 296.20,295.00 297.20,300.00 300.00,304.25" fill="url(#hb)" stroke="#777" stroke-width="0.4"/>
<line x1="277.6" y1="205.3" x2="277.6" y2="304.25" stroke="#2a2a2a" stroke-width="0.95"/>
<path d="M277.60,304.25h-2.6M277.60,301.50h-1.4M277.60,298.75h-1.4M277.60,296.00h-1.4M277.60,293.26h-1.4M277.60,290.51h-1.4M277.60,287.76h-2.6M277.60,285.01h-1.4M277.60,282.26h-1.4M277.60,279.51h-1.4M277.60,276.76h-1.4M277.60,274.02h-1.4M277.60,271.27h-2.6M277.60,268.52h-1.4M277.60,265.77h-1.4M277.60,263.02h-1.4M277.60,260.27h-1.4M277.60,257.52h-1.4M277.60,254.78h-2.6M277.60,252.03h-1.4M277.60,249.28h-1.4M277.60,246.53h-1.4M277.60,243.78h-1.4M277.60,241.03h-1.4M277.60,238.28h-2.6M277.60,235.53h-1.4M277.60,232.79h-1.4M277.60,230.04h-1.4M277.60,227.29h-1.4M277.60,224.54h-1.4M277.60,221.79h-2.6M277.60,219.04h-1.4M277.60,216.29h-1.4M277.60,213.55h-1.4M277.60,210.80h-1.4M277.60,208.05h-1.4M277.60,205.30h-2.6" stroke="#222" stroke-width="0.75" fill="none"/>
<line x1="278.30" y1="205.3" x2="278.30" y2="304.25" stroke="#000" stroke-width="1.6"/>
<line x1="277.10" y1="304.25" x2="383.20" y2="304.25" stroke="#0a0a0a" stroke-width="1.25"/>
<line x1="277.60" y1="303.90" x2="338.62" y2="303.90" stroke="#000" stroke-width="1.45"/>
<path d="M277.60,304.25v2.2M285.52,304.25v1.2M290.15,304.25v1.2M293.43,304.25v1.2M295.98,304.25v1.2M298.07,304.25v1.2M299.83,304.25v1.2M301.35,304.25v1.2M302.70,304.25v1.2M303.90,304.25v2.2M311.82,304.25v1.2M316.45,304.25v1.2M319.73,304.25v1.2M322.28,304.25v1.2M324.37,304.25v1.2M326.13,304.25v1.2M327.65,304.25v1.2M329.00,304.25v1.2M330.20,304.25v2.2M338.12,304.25v1.2M342.75,304.25v1.2M346.03,304.25v1.2M348.58,304.25v1.2M350.67,304.25v1.2M352.43,304.25v1.2M353.95,304.25v1.2M355.30,304.25v1.2M356.50,304.25v2.2M364.42,304.25v1.2M369.05,304.25v1.2M372.33,304.25v1.2M374.88,304.25v1.2M376.97,304.25v1.2M378.73,304.25v1.2M380.25,304.25v1.2M381.60,304.25v1.2M382.80,304.25v2.2" stroke="#222" stroke-width="0.7" fill="none"/>
<polyline points="279.50,280.50 279.98,278.52 280.34,276.32 280.86,273.95 280.99,272.24 281.33,270.19 281.90,268.00 282.06,266.10 282.25,263.94 282.82,261.32 282.71,258.96 282.96,256.97 283.30,255.00 283.53,253.38 283.64,251.18 283.89,248.87 284.04,247.28 284.40,245.00 284.75,242.78 284.75,241.17 284.86,238.91 284.69,237.17 285.00,235.00 285.15,233.06 285.48,230.98 285.37,229.22 285.91,227.49 285.85,225.86 286.00,223.75 287.00,225.00 287.41,226.33 287.89,228.00 288.50,230.00 288.92,232.39 289.05,233.91 289.19,236.13 289.54,238.58 289.76,240.67 290.24,242.58 290.60,245.00 290.64,247.13 291.06,248.77 291.14,251.30 291.34,253.24 291.50,255.00 291.88,257.14 291.65,258.95 292.05,261.87 292.22,263.54 292.13,266.04 292.50,268.00 292.48,270.23 293.00,272.31 293.23,274.04 293.05,276.88 293.44,278.45 293.75,281.03 293.73,282.64 294.00,285.00 294.11,287.12 294.69,288.81 294.77,290.71 294.88,292.94 295.25,295.00 295.58,296.32 296.11,298.64 296.25,300.00 297.43,301.72 298.38,302.48 299.40,304.00 300.60,303.53 302.08,303.43 303.63,303.37 305.10,303.48 306.69,303.39 308.29,303.45 310.02,303.61 311.89,303.48 313.62,303.08 314.78,303.66 316.26,303.26 317.51,303.21 318.86,303.47 320.43,303.66 321.71,303.64 322.96,303.48 324.59,303.36 326.01,303.66 327.52,303.65 328.99,303.53 330.30,303.44 331.91,303.70 333.04,303.74 334.88,303.68 336.02,303.65 337.50,303.59 338.85,303.58 340.71,303.69" fill="none" stroke="#000" stroke-width="1.45" stroke-linejoin="round" stroke-linecap="round"/>
<text class="s" transform="translate(272.30,303.85) rotate(-90)" text-anchor="middle" style="font-size:5.3px">0</text>
<text class="s" transform="translate(272.30,287.36) rotate(-90)" text-anchor="middle" style="font-size:5.3px">20</text>
<text class="s" transform="translate(272.30,270.87) rotate(-90)" text-anchor="middle" style="font-size:5.3px">40</text>
<text class="s" transform="translate(272.30,254.38) rotate(-90)" text-anchor="middle" style="font-size:5.3px">60</text>
<text class="s" transform="translate(272.30,237.88) rotate(-90)" text-anchor="middle" style="font-size:5.3px">80</text>
<text class="s" transform="translate(272.30,221.39) rotate(-90)" text-anchor="middle" style="font-size:5.3px">100</text>
<text class="s" transform="translate(272.30,204.90) rotate(-90)" text-anchor="middle" style="font-size:5.3px">120</text>
<text class="s" transform="translate(266.30,256.27) rotate(-90)" text-anchor="middle">Counts</text>
<text class="s" x="279.60" y="313.75" text-anchor="end" style="font-size:5px">10</text>
<text x="280.00" y="310.25" font-size="4.8" fill="#111" stroke="#111" stroke-width="0.15">0</text>
<text class="s" x="305.90" y="313.75" text-anchor="end" style="font-size:5px">10</text>
<text x="306.30" y="310.25" font-size="4.8" fill="#111" stroke="#111" stroke-width="0.15">1</text>
<text class="s" x="332.20" y="313.75" text-anchor="end" style="font-size:5px">10</text>
<text x="332.60" y="310.25" font-size="4.8" fill="#111" stroke="#111" stroke-width="0.15">2</text>
<text class="s" x="358.50" y="313.75" text-anchor="end" style="font-size:5px">10</text>
<text x="358.90" y="310.25" font-size="4.8" fill="#111" stroke="#111" stroke-width="0.15">3</text>
<text class="s" x="384.80" y="313.75" text-anchor="end" style="font-size:5px">10</text>
<text x="385.20" y="310.25" font-size="4.8" fill="#111" stroke="#111" stroke-width="0.15">4</text>
<text class="s" x="329.80" y="319.45" text-anchor="middle">FL1-Height</text>
</g>
<g id="P8" filter="url(#soft)">
<path d="M409.2,204.5 H515.5 V304.25" fill="none" stroke="#4a4a4a" stroke-width="0.95"/>
<polygon points="411.00,304.25 412.60,295.00 414.50,285.00 416.40,272.00 417.00,260.00 418.25,245.00 419.00,230.00 420.00,218.00 420.75,211.25 421.50,218.00 422.50,230.00 424.20,245.00 425.10,260.00 427.00,272.00 427.60,280.00 428.50,285.00 430.10,295.00 432.60,300.00 437.00,302.00 444.50,304.25" fill="url(#hb)" stroke="#777" stroke-width="0.4"/>
<line x1="409.2" y1="204.9" x2="409.2" y2="304.25" stroke="#2a2a2a" stroke-width="0.95"/>
<path d="M409.20,304.25h-2.6M409.20,301.49h-1.4M409.20,298.73h-1.4M409.20,295.97h-1.4M409.20,293.21h-1.4M409.20,290.45h-1.4M409.20,287.69h-2.6M409.20,284.93h-1.4M409.20,282.17h-1.4M409.20,279.41h-1.4M409.20,276.65h-1.4M409.20,273.89h-1.4M409.20,271.13h-2.6M409.20,268.37h-1.4M409.20,265.61h-1.4M409.20,262.85h-1.4M409.20,260.09h-1.4M409.20,257.33h-1.4M409.20,254.57h-2.6M409.20,251.82h-1.4M409.20,249.06h-1.4M409.20,246.30h-1.4M409.20,243.54h-1.4M409.20,240.78h-1.4M409.20,238.02h-2.6M409.20,235.26h-1.4M409.20,232.50h-1.4M409.20,229.74h-1.4M409.20,226.98h-1.4M409.20,224.22h-1.4M409.20,221.46h-2.6M409.20,218.70h-1.4M409.20,215.94h-1.4M409.20,213.18h-1.4M409.20,210.42h-1.4M409.20,207.66h-1.4M409.20,204.90h-2.6" stroke="#222" stroke-width="0.75" fill="none"/>
<line x1="408.70" y1="304.25" x2="515.60" y2="304.25" stroke="#0a0a0a" stroke-width="1.25"/>
<line x1="409.20" y1="303.90" x2="470.68" y2="303.90" stroke="#000" stroke-width="1.45"/>
<path d="M409.20,304.25v2.2M417.18,304.25v1.2M421.84,304.25v1.2M425.15,304.25v1.2M427.72,304.25v1.2M429.82,304.25v1.2M431.60,304.25v1.2M433.13,304.25v1.2M434.49,304.25v1.2M435.70,304.25v2.2M443.68,304.25v1.2M448.34,304.25v1.2M451.65,304.25v1.2M454.22,304.25v1.2M456.32,304.25v1.2M458.10,304.25v1.2M459.63,304.25v1.2M460.99,304.25v1.2M462.20,304.25v2.2M470.18,304.25v1.2M474.84,304.25v1.2M478.15,304.25v1.2M480.72,304.25v1.2M482.82,304.25v1.2M484.60,304.25v1.2M486.13,304.25v1.2M487.49,304.25v1.2M488.70,304.25v2.2M496.68,304.25v1.2M501.34,304.25v1.2M504.65,304.25v1.2M507.22,304.25v1.2M509.32,304.25v1.2M511.10,304.25v1.2M512.63,304.25v1.2M513.99,304.25v1.2M515.20,304.25v2.2" stroke="#222" stroke-width="0.7" fill="none"/>
<polyline points="410.75,304.00 412.48,303.37 414.03,303.00 415.75,302.00 416.94,300.21 418.36,298.75 419.50,298.00 420.53,296.26 420.41,293.61 421.40,292.00 422.07,290.62 422.10,288.38 422.55,287.11 422.60,285.00 422.47,283.17 422.84,281.00 422.87,278.87 423.21,276.83 424.05,274.18 423.90,272.00 423.98,269.56 424.82,267.96 425.03,266.02 424.96,263.68 425.11,261.42 425.81,258.64 426.11,257.32 426.40,255.00 426.44,252.99 427.07,251.92 426.84,248.97 427.50,247.76 427.60,246.00 427.62,245.20 428.30,243.20 429.50,242.50 431.40,243.50 431.48,245.17 431.76,247.08 432.30,248.00 432.51,249.42 433.03,251.25 432.72,253.13 433.25,255.00 433.97,256.55 434.23,258.96 434.71,260.99 434.62,263.31 435.10,265.00 435.37,266.59 435.81,269.68 436.11,271.96 436.02,273.19 436.54,275.82 436.18,277.85 436.75,280.00 436.89,281.77 437.50,283.60 438.25,285.00 438.62,286.18 438.81,288.98 439.01,290.80 439.50,292.00 440.12,294.42 441.29,295.82 442.00,298.00 443.39,299.83 444.10,301.06 445.10,302.00 446.85,302.45 448.17,303.60 450.03,303.75 452.00,304.00 453.20,303.67 454.87,302.96 456.35,303.44 457.88,303.00 459.40,303.21 461.14,303.24 463.01,303.32 464.19,303.61 465.70,303.47 467.14,303.47 468.77,303.63 470.12,303.71 471.96,303.71" fill="none" stroke="#000" stroke-width="1.45" stroke-linejoin="round" stroke-linecap="round"/>
<text class="s" transform="translate(403.80,303.85) rotate(-90)" text-anchor="middle" style="font-size:5.3px">0</text>
<text class="s" transform="translate(403.80,287.29) rotate(-90)" text-anchor="middle" style="font-size:5.3px">20</text>
<text class="s" transform="translate(403.80,270.73) rotate(-90)" text-anchor="middle" style="font-size:5.3px">40</text>
<text class="s" transform="translate(403.80,254.17) rotate(-90)" text-anchor="middle" style="font-size:5.3px">60</text>
<text class="s" transform="translate(403.80,237.62) rotate(-90)" text-anchor="middle" style="font-size:5.3px">80</text>
<text class="s" transform="translate(403.80,221.06) rotate(-90)" text-anchor="middle" style="font-size:5.3px">100</text>
<text class="s" transform="translate(403.80,204.50) rotate(-90)" text-anchor="middle" style="font-size:5.3px">120</text>
<text class="s" transform="translate(397.80,256.07) rotate(-90)" text-anchor="middle">Counts</text>
<text class="s" x="411.20" y="313.75" text-anchor="end" style="font-size:5px">10</text>
<text x="411.60" y="310.25" font-size="4.8" fill="#111" stroke="#111" stroke-width="0.15">0</text>
<text class="s" x="437.70" y="313.75" text-anchor="end" style="font-size:5px">10</text>
<text x="438.10" y="310.25" font-size="4.8" fill="#111" stroke="#111" stroke-width="0.15">1</text>
<text class="s" x="464.20" y="313.75" text-anchor="end" style="font-size:5px">10</text>
<text x="464.60" y="310.25" font-size="4.8" fill="#111" stroke="#111" stroke-width="0.15">2</text>
<text class="s" x="490.70" y="313.75" text-anchor="end" style="font-size:5px">10</text>
<text x="491.10" y="310.25" font-size="4.8" fill="#111" stroke="#111" stroke-width="0.15">3</text>
<text class="s" x="517.20" y="313.75" text-anchor="end" style="font-size:5px">10</text>
<text x="517.60" y="310.25" font-size="4.8" fill="#111" stroke="#111" stroke-width="0.15">4</text>
<text class="s" x="461.80" y="319.45" text-anchor="middle">FL1-Height</text>
</g>
</svg>
</body></html>
